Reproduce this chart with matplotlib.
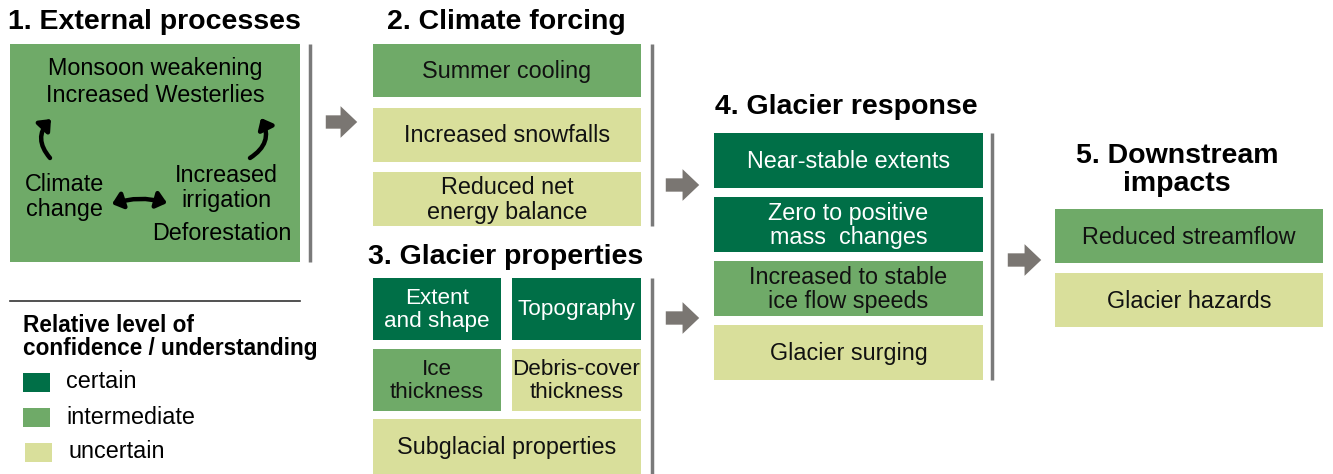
import matplotlib.pyplot as plt
from matplotlib.patches import Rectangle, FancyArrowPatch

plt.rcParams['font.family'] = ['Liberation Sans', 'DejaVu Sans']

# confidence colours
colors = {'certain': '#006f47', 'intermediate': '#6faa68', 'uncertain': '#d9df9b'}
text_col = {'certain': 'white', 'intermediate': '#111111', 'uncertain': '#111111'}

forcing_labels = ['Summer cooling', 'Increased snowfalls', 'Reduced net\nenergy balance']
forcing_levels = ['intermediate', 'uncertain', 'uncertain']

props_labels = ['Extent\nand shape', 'Topography', 'Ice\nthickness',
                'Debris-cover\nthickness', 'Subglacial properties']
props_levels = ['certain', 'certain', 'intermediate', 'uncertain', 'uncertain']

response_labels = ['Near-stable extents', 'Zero to positive\nmass  changes',
                   'Increased to stable\nice flow speeds', 'Glacier surging']
response_levels = ['certain', 'certain', 'intermediate', 'uncertain']

impact_labels = ['Reduced streamflow', 'Glacier hazards']
impact_levels = ['intermediate', 'uncertain']

legend_levels = ['certain', 'intermediate', 'uncertain']

fig = plt.figure(figsize=(13.33, 4.74), dpi=100)
ax = fig.add_axes([0, 0, 1, 1])
ax.set_xlim(0, 1333)
ax.set_ylim(474, 0)
ax.axis('off')

FS = 16.8
TFS = 20.5
LS = 1.08


def box(x0, x1, y0, y1, label, level):
    ax.add_patch(Rectangle((x0, y0), x1 - x0, y1 - y0, color=colors[level], lw=0))
    fs = 16.2 if (x1 - x0) < 140 else FS
    ax.text((x0 + x1) / 2, (y0 + y1) / 2 + 1, label, ha='center', va='center',
            fontsize=fs, color=text_col[level], linespacing=LS)


def vline(x, y0, y1):
    ax.plot([x, x], [y0, y1], color='#7a7a7a', lw=2.5, solid_capstyle='butt')


def gray_arrow(x0, x1, y):
    ax.add_patch(FancyArrowPatch((x0, y), (x1, y),
                                 arrowstyle='simple,head_width=1.9,head_length=1.0,tail_width=0.8',
                                 mutation_scale=12, color='#7a7672', lw=0))


def black_arrow(p0, p1, rad, style):
    ax.add_patch(FancyArrowPatch(p0, p1, connectionstyle='arc3,rad=%f' % rad,
                                 arrowstyle=style, lw=3.2, color='black', mutation_scale=1.0,
                                 shrinkA=0, shrinkB=0))


# 1. External processes
ax.text(8, 22, '1. External processes', fontsize=TFS, fontweight='bold', va='center', ha='left')
ax.add_patch(Rectangle((10, 44), 290, 218, color=colors['intermediate'], lw=0))
ax.text(155, 68, 'Monsoon weakening', fontsize=FS, ha='center', va='center')
ax.text(155, 95, 'Increased Westerlies', fontsize=FS, ha='center', va='center')
ax.text(64, 197, 'Climate\nchange', fontsize=FS, ha='center', va='center', linespacing=LS)
ax.text(226, 188, 'Increased\nirrigation', fontsize=FS, ha='center', va='center', linespacing=LS)
ax.text(222, 233, 'Deforestation', fontsize=FS, ha='center', va='center')
black_arrow((50, 158), (51, 119), -0.45, '-|>,head_width=5,head_length=6')
black_arrow((250, 158), (261, 118), 0.45, '-|>,head_width=5,head_length=6')
black_arrow((112, 204), (167, 203), -0.15, '<|-|>,head_width=5,head_length=6')
vline(310, 44, 262)
gray_arrow(323, 360, 122)

# legend
ax.plot([10, 300], [301, 301], color='#333333', lw=1.2)
ax.text(23, 337, 'Relative level of\nconfidence / understanding', fontsize=16.3, fontweight='bold',
        ha='left', va='center', linespacing=1.0)
for i, lev in enumerate(legend_levels):
    y = 382 + i * 35
    ax.add_patch(Rectangle((23 + (2 if i == 2 else 0), y - 9), 27, 19, color=colors[lev], lw=0))
    ax.text(66 + (2 if i == 2 else 0), y, lev, fontsize=FS, ha='left', va='center')

# 2. Climate forcing
ax.text(387, 22, '2. Climate forcing', fontsize=TFS, fontweight='bold', va='center', ha='left')
forcing_y = [(44, 97), (108, 162), (172, 226)]
for (y0, y1), lab, lev in zip(forcing_y, forcing_labels, forcing_levels):
    box(373, 641, y0, y1, lab, lev)
vline(652, 44, 226)
gray_arrow(663, 702, 185)

# 3. Glacier properties
ax.text(368, 257, '3. Glacier properties', fontsize=TFS, fontweight='bold', va='center', ha='left')
props_pos = [(373, 501, 278, 340), (512, 641, 278, 340), (373, 501, 349, 411),
             (512, 641, 349, 411), (373, 641, 419, 474)]
for (x0, x1, y0, y1), lab, lev in zip(props_pos, props_labels, props_levels):
    box(x0, x1, y0, y1, lab, lev)
vline(652, 278, 474)
gray_arrow(663, 702, 318)

# 4. Glacier response
ax.text(715, 107, '4. Glacier response', fontsize=TFS, fontweight='bold', va='center', ha='left')
resp_y = [(133, 188), (197, 252), (261, 316), (325, 380)]
for (y0, y1), lab, lev in zip(resp_y, response_labels, response_levels):
    box(714, 983, y0, y1, lab, lev)
vline(992, 133, 380)
gray_arrow(1005, 1044, 260)

# 5. Downstream impacts
ax.text(1177, 170, '5. Downstream\nimpacts', fontsize=TFS, fontweight='bold', va='center', ha='center',
        linespacing=1.12)
imp_y = [(209, 263), (273, 327)]
for (y0, y1), lab, lev in zip(imp_y, impact_labels, impact_levels):
    box(1055, 1323, y0, y1, lab, lev)

fig.savefig('out.png', dpi=100)
